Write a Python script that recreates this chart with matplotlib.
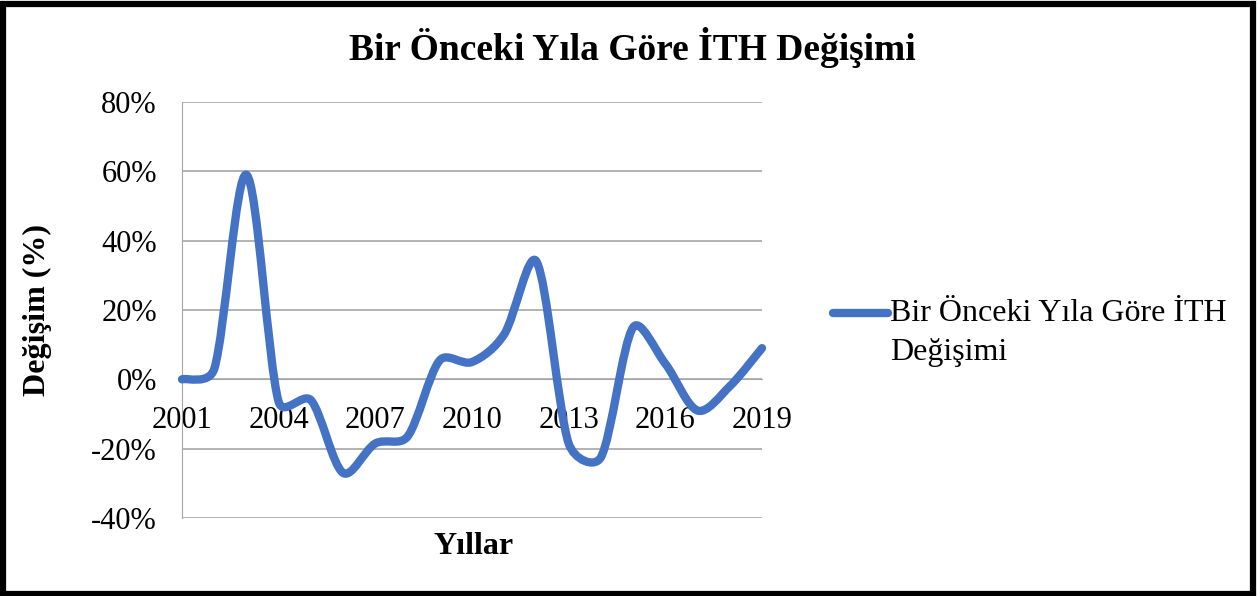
import numpy as np
import matplotlib.pyplot as plt
from matplotlib.path import Path
from matplotlib.patches import PathPatch, Rectangle
from matplotlib.lines import Line2D
from matplotlib.ticker import FuncFormatter

plt.rcParams['font.family'] = ['Liberation Serif', 'DejaVu Serif']

# data
years = [2001, 2002, 2003, 2004, 2005, 2006, 2007, 2008, 2009, 2010,
         2011, 2012, 2013, 2014, 2015, 2016, 2017, 2018, 2019]
change = [0.0, 3.0, 59.0, -6.5, -6.0, -27.0, -18.5, -16.5, 5.5, 5.0,
          13.0, 34.0, -18.5, -22.5, 15.0, 4.5, -9.0, -2.0, 9.0]
tick_years = [2001, 2004, 2007, 2010, 2013, 2016, 2019]
y_ticks = [-40, -20, 0, 20, 40, 60, 80]

title = 'Bir Önceki Yıla Göre İTH Değişimi'
series_name = 'Bir Önceki Yıla Göre İTH\nDeğişimi'
blue = '#4472C4'

fig = plt.figure(figsize=(12.58, 5.96), dpi=100)
ax = fig.add_axes([182/1258, 1 - 518/596, 580/1258, 416/596])

# smoothed line, close to Excel's "smoothed line" option:
# Catmull-Rom handles, shortened next to short (flat) segments
sx, sy = 580 / 18, 416 / 120
P = np.column_stack([np.array(years, float) * sx, np.array(change, float) * sy])
n = len(P)


def handle(prev, cur, nxt, seg):
    h = (nxt - prev) / 6
    a = np.linalg.norm(cur - prev)
    b = np.linalg.norm(nxt - cur)
    if a + b == 0:
        return h
    return h * min(1.0, 2 * seg / (a + b)) ** 0.6


verts = [(years[0], change[0])]
codes = [Path.MOVETO]
for i in range(n - 1):
    p0, p1 = P[max(i - 1, 0)], P[i]
    p2, p3 = P[i + 1], P[min(i + 2, n - 1)]
    seg = np.linalg.norm(p2 - p1)
    c1 = p1 + handle(p0, p1, p2, seg)
    c2 = p2 - handle(p1, p2, p3, seg)
    for c in (c1, c2, p2):
        verts.append((c[0] / sx, c[1] / sy))
    codes += [Path.CURVE4] * 3
ax.add_patch(PathPatch(Path(verts, codes), facecolor='none', edgecolor=blue,
                       lw=6, capstyle='round', joinstyle='round', zorder=3,
                       clip_on=False))

ax.set_xlim(2001, 2019)
ax.set_ylim(-40, 80)
ax.set_yticks(y_ticks)
ax.yaxis.set_major_formatter(FuncFormatter(lambda v, p: f'{v:.0f}%'))
ax.set_xticks(tick_years)
ax.grid(axis='y', color='#A6A6A6', lw=1.2)
ax.set_axisbelow(True)

for sp in ['top', 'right']:
    ax.spines[sp].set_visible(False)
ax.spines['left'].set_color('#A6A6A6')
ax.spines['bottom'].set_position(('data', 0))
ax.spines['bottom'].set_color('#A6A6A6')
ax.tick_params(axis='both', length=0, labelsize=22)
ax.tick_params(axis='x', pad=19)
ax.tick_params(axis='y', pad=18)

ax.set_ylabel('Değişim (%)', fontsize=23, fontweight='bold')
ax.yaxis.set_label_coords(-0.225, 0.5)
fig.text(474/1258, 1 - 547/596, 'Yıllar', fontsize=23, fontweight='bold',
         ha='center', va='center')
fig.text(632/1258, 1 - 47/596, title, fontsize=27, fontweight='bold',
         ha='center', va='center')

# legend
fig.add_artist(Line2D([833/1258, 888/1258], [1 - 313/596, 1 - 313/596],
                      color=blue, lw=6, solid_capstyle='round'))
fig.text(890/1258, 1 - 333/596, series_name, fontsize=23, ha='left',
         va='center', linespacing=1.42)

fig.add_artist(Rectangle((0.002, 0.004), 0.994, 0.99, transform=fig.transFigure,
                         fill=False, edgecolor='black', lw=4.5))

fig.savefig('out.png', dpi=100)
